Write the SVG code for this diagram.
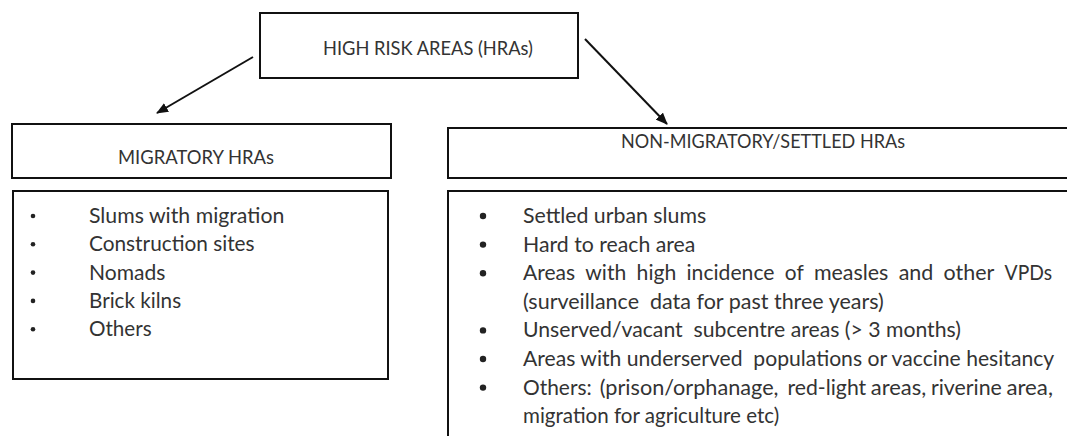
<svg xmlns="http://www.w3.org/2000/svg" width="1067" height="436" viewBox="0 0 1067 436">
  <style>
    .box { fill: #ffffff; stroke: #111111; stroke-width: 2; }
    .head { font-family: Lato, "Liberation Sans", sans-serif; font-size: 19px; fill: #333333; text-anchor: middle; }
    .item { font-family: Lato, "Liberation Sans", sans-serif; font-size: 21px; fill: #333333; }
    .dot { fill: #222222; }
    .link { stroke: #111111; stroke-width: 2; fill: none; marker-end: url(#tip); }
  </style>
  <defs>
    <marker id="tip" viewBox="0 0 12 10" refX="11" refY="5" markerWidth="12" markerHeight="10" markerUnits="userSpaceOnUse" orient="auto">
      <path d="M0,0 L12,5 L0,10 Z" fill="#111111"/>
    </marker>
  </defs>
  <rect width="1067" height="436" fill="#ffffff"/>

  <!-- connectors from the root box to the two categories -->
  <g id="connectors">
    <line class="link" x1="253" y1="57" x2="157" y2="113"/>
    <line class="link" x1="585" y1="39" x2="667" y2="124"/>
  </g>

  <!-- root -->
  <g id="hra-root">
    <rect class="box" x="260" y="13" width="318" height="65"/>
    <text class="head" x="428" y="55" textLength="210" lengthAdjust="spacingAndGlyphs">HIGH RISK AREAS (HRAs)</text>
  </g>

  <!-- migratory branch -->
  <g id="migratory">
    <rect class="box" x="12" y="124" width="379" height="54"/>
    <text class="head" x="196" y="164" textLength="156" lengthAdjust="spacingAndGlyphs">MIGRATORY HRAs</text>
  </g>

  <g id="migratory-list">
    <rect class="box" x="13" y="191" width="375" height="188"/>
    <g class="dot">
      <circle cx="33" cy="216" r="2.3"/>
      <circle cx="33" cy="244.3" r="2.3"/>
      <circle cx="33" cy="272.6" r="2.3"/>
      <circle cx="33" cy="300.9" r="2.3"/>
      <circle cx="33" cy="329.2" r="2.3"/>
    </g>
    <text class="item" x="89" y="223" textLength="195.3" lengthAdjust="spacingAndGlyphs">Slums with migration</text>
    <text class="item" x="89" y="251.3" textLength="165.6" lengthAdjust="spacingAndGlyphs">Construction sites</text>
    <text class="item" x="89" y="279.6" textLength="76.4" lengthAdjust="spacingAndGlyphs">Nomads</text>
    <text class="item" x="89" y="307.9" textLength="92.1" lengthAdjust="spacingAndGlyphs">Brick kilns</text>
    <text class="item" x="89" y="336.2" textLength="62.6" lengthAdjust="spacingAndGlyphs">Others</text>
  </g>

  <!-- settled branch -->
  <g id="settled">
    <rect class="box" x="448" y="128" width="640" height="50"/>
    <text class="head" x="763" y="148" textLength="284" lengthAdjust="spacingAndGlyphs">NON-MIGRATORY/SETTLED HRAs</text>
  </g>

  <g id="settled-list">
    <rect class="box" x="448" y="191" width="640" height="260"/>
    <g class="dot">
      <circle cx="483" cy="216" r="3.2"/>
      <circle cx="483" cy="244.6" r="3.2"/>
      <circle cx="483" cy="273.2" r="3.2"/>
      <circle cx="483" cy="330.4" r="3.2"/>
      <circle cx="483" cy="359" r="3.2"/>
      <circle cx="483" cy="387.6" r="3.2"/>
    </g>
    <text class="item" x="523" y="223" textLength="183.2" lengthAdjust="spacingAndGlyphs">Settled urban slums</text>
    <text class="item" x="523" y="251.6" textLength="172.4" lengthAdjust="spacingAndGlyphs">Hard to reach area</text>
    <!-- justified line: each word placed on its own -->
    <g class="item">
      <text x="523" y="280.2" textLength="52.1" lengthAdjust="spacingAndGlyphs">Areas</text>
      <text x="585.3" y="280.2" textLength="41" lengthAdjust="spacingAndGlyphs">with</text>
      <text x="636.6" y="280.2" textLength="39.7" lengthAdjust="spacingAndGlyphs">high</text>
      <text x="686.5" y="280.2" textLength="88" lengthAdjust="spacingAndGlyphs">incidence</text>
      <text x="784.8" y="280.2" textLength="18.9" lengthAdjust="spacingAndGlyphs">of</text>
      <text x="813.9" y="280.2" textLength="74.5" lengthAdjust="spacingAndGlyphs">measles</text>
      <text x="898.7" y="280.2" textLength="34.7" lengthAdjust="spacingAndGlyphs">and</text>
      <text x="943.6" y="280.2" textLength="50.7" lengthAdjust="spacingAndGlyphs">other</text>
      <text x="1004.6" y="280.2" textLength="47.5" lengthAdjust="spacingAndGlyphs">VPDs</text>
    </g>
    <text class="item" x="523" y="308.8" textLength="360.8" lengthAdjust="spacingAndGlyphs" xml:space="preserve">(surveillance  data for past three years)</text>
    <text class="item" x="523" y="337.4" textLength="437.9" lengthAdjust="spacingAndGlyphs" xml:space="preserve">Unserved/vacant  subcentre areas (&gt; 3 months)</text>
    <text class="item" x="523" y="366" textLength="531.2" lengthAdjust="spacingAndGlyphs" xml:space="preserve">Areas with underserved  populations or vaccine hesitancy</text>
    <!-- justified line: each word placed on its own -->
    <g class="item">
      <text x="523" y="394.6" textLength="68.7" lengthAdjust="spacingAndGlyphs">Others:</text>
      <text x="599.7" y="394.6" textLength="178.8" lengthAdjust="spacingAndGlyphs">(prison/orphanage,</text>
      <text x="787.5" y="394.6" textLength="78.7" lengthAdjust="spacingAndGlyphs">red-light</text>
      <text x="870.8" y="394.6" textLength="55.5" lengthAdjust="spacingAndGlyphs">areas,</text>
      <text x="930.9" y="394.6" textLength="71" lengthAdjust="spacingAndGlyphs">riverine</text>
      <text x="1006.4" y="394.6" textLength="46.6" lengthAdjust="spacingAndGlyphs">area,</text>
    </g>
    <text class="item" x="523" y="423.2" textLength="256.2" lengthAdjust="spacingAndGlyphs">migration for agriculture etc)</text>
  </g>
</svg>
